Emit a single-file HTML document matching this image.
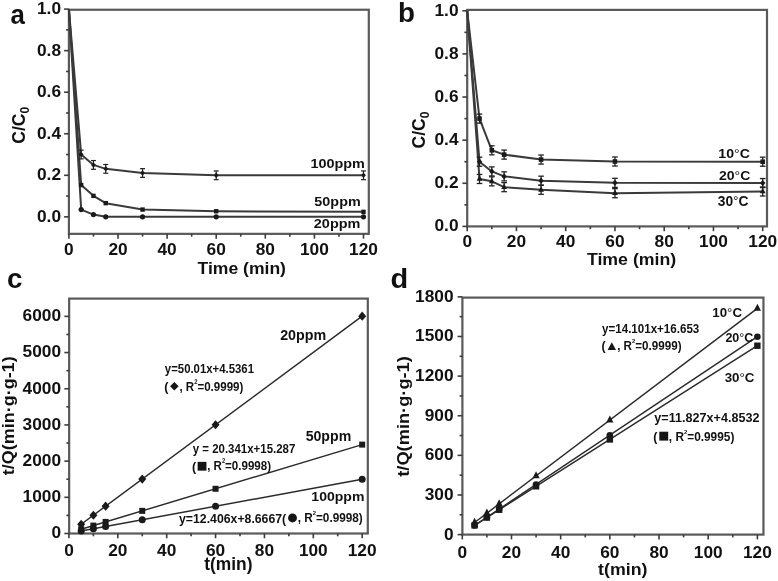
<!DOCTYPE html>
<html><head><meta charset="utf-8"><style>
html,body{margin:0;padding:0;background:#fff;width:778px;height:581px;overflow:hidden}
svg{display:block;font-family:"Liberation Sans",sans-serif}
#w{filter:grayscale(1);width:778px;height:581px}

</style></head><body>
<div id="w"><svg width="778" height="581" viewBox="0 0 778 581">
<rect width="778" height="581" fill="#fff"/>
<rect x="68.90" y="9.75" width="299.90" height="224.10" fill="none" stroke="#5a5a5a" stroke-width="2.2"/>
<line x1="68.90" y1="233.85" x2="68.90" y2="238.65" stroke="#3c3c3c" stroke-width="1.6"/>
<text x="68.90" y="255.20" font-size="17.3" font-weight="bold" text-anchor="middle" fill="#111">0</text>
<line x1="118.00" y1="233.85" x2="118.00" y2="238.65" stroke="#3c3c3c" stroke-width="1.6"/>
<text x="118.00" y="255.20" font-size="17.3" font-weight="bold" text-anchor="middle" fill="#111">20</text>
<line x1="167.10" y1="233.85" x2="167.10" y2="238.65" stroke="#3c3c3c" stroke-width="1.6"/>
<text x="167.10" y="255.20" font-size="17.3" font-weight="bold" text-anchor="middle" fill="#111">40</text>
<line x1="216.20" y1="233.85" x2="216.20" y2="238.65" stroke="#3c3c3c" stroke-width="1.6"/>
<text x="216.20" y="255.20" font-size="17.3" font-weight="bold" text-anchor="middle" fill="#111">60</text>
<line x1="265.30" y1="233.85" x2="265.30" y2="238.65" stroke="#3c3c3c" stroke-width="1.6"/>
<text x="265.30" y="255.20" font-size="17.3" font-weight="bold" text-anchor="middle" fill="#111">80</text>
<line x1="314.40" y1="233.85" x2="314.40" y2="238.65" stroke="#3c3c3c" stroke-width="1.6"/>
<text x="314.40" y="255.20" font-size="17.3" font-weight="bold" text-anchor="middle" fill="#111">100</text>
<line x1="363.50" y1="233.85" x2="363.50" y2="238.65" stroke="#3c3c3c" stroke-width="1.6"/>
<text x="363.50" y="255.20" font-size="17.3" font-weight="bold" text-anchor="middle" fill="#111">120</text>
<line x1="93.45" y1="233.85" x2="93.45" y2="236.65" stroke="#3c3c3c" stroke-width="1.6"/>
<line x1="142.55" y1="233.85" x2="142.55" y2="236.65" stroke="#3c3c3c" stroke-width="1.6"/>
<line x1="191.65" y1="233.85" x2="191.65" y2="236.65" stroke="#3c3c3c" stroke-width="1.6"/>
<line x1="240.75" y1="233.85" x2="240.75" y2="236.65" stroke="#3c3c3c" stroke-width="1.6"/>
<line x1="289.85" y1="233.85" x2="289.85" y2="236.65" stroke="#3c3c3c" stroke-width="1.6"/>
<line x1="338.95" y1="233.85" x2="338.95" y2="236.65" stroke="#3c3c3c" stroke-width="1.6"/>
<line x1="64.10" y1="216.85" x2="68.90" y2="216.85" stroke="#3c3c3c" stroke-width="1.6"/>
<text x="61.00" y="221.75" font-size="17.3" font-weight="bold" text-anchor="end" fill="#111">0.0</text>
<line x1="64.10" y1="175.30" x2="68.90" y2="175.30" stroke="#3c3c3c" stroke-width="1.6"/>
<text x="61.00" y="180.20" font-size="17.3" font-weight="bold" text-anchor="end" fill="#111">0.2</text>
<line x1="64.10" y1="133.75" x2="68.90" y2="133.75" stroke="#3c3c3c" stroke-width="1.6"/>
<text x="61.00" y="138.65" font-size="17.3" font-weight="bold" text-anchor="end" fill="#111">0.4</text>
<line x1="64.10" y1="92.20" x2="68.90" y2="92.20" stroke="#3c3c3c" stroke-width="1.6"/>
<text x="61.00" y="97.10" font-size="17.3" font-weight="bold" text-anchor="end" fill="#111">0.6</text>
<line x1="64.10" y1="50.65" x2="68.90" y2="50.65" stroke="#3c3c3c" stroke-width="1.6"/>
<text x="61.00" y="55.55" font-size="17.3" font-weight="bold" text-anchor="end" fill="#111">0.8</text>
<line x1="64.10" y1="9.10" x2="68.90" y2="9.10" stroke="#3c3c3c" stroke-width="1.6"/>
<text x="61.00" y="14.00" font-size="17.3" font-weight="bold" text-anchor="end" fill="#111">1.0</text>
<line x1="66.10" y1="196.07" x2="68.90" y2="196.07" stroke="#3c3c3c" stroke-width="1.6"/>
<line x1="66.10" y1="154.53" x2="68.90" y2="154.53" stroke="#3c3c3c" stroke-width="1.6"/>
<line x1="66.10" y1="112.97" x2="68.90" y2="112.97" stroke="#3c3c3c" stroke-width="1.6"/>
<line x1="66.10" y1="71.43" x2="68.90" y2="71.43" stroke="#3c3c3c" stroke-width="1.6"/>
<line x1="66.10" y1="29.88" x2="68.90" y2="29.88" stroke="#3c3c3c" stroke-width="1.6"/>
<polyline points="68.90,9.10 81.18,154.53 93.45,164.91 105.73,168.86 142.55,173.01 216.20,175.30 363.50,175.30" fill="none" stroke="#3a3a3a" stroke-width="2.0" stroke-linejoin="round"/>
<polyline points="68.90,9.10 81.18,185.06 93.45,195.87 105.73,203.14 142.55,209.58 216.20,211.24 363.50,211.86" fill="none" stroke="#3a3a3a" stroke-width="2.0" stroke-linejoin="round"/>
<polyline points="68.90,9.10 81.18,209.58 93.45,214.56 105.73,216.85 142.55,216.85 216.20,216.85 363.50,216.85" fill="none" stroke="#3a3a3a" stroke-width="2.0" stroke-linejoin="round"/>
<line x1="81.18" y1="150.16" x2="81.18" y2="158.89" stroke="#222" stroke-width="1.2"/>
<line x1="78.68" y1="150.16" x2="83.68" y2="150.16" stroke="#222" stroke-width="1.2"/>
<line x1="78.68" y1="158.89" x2="83.68" y2="158.89" stroke="#222" stroke-width="1.2"/>
<path d="M81.18,151.77 L83.58,154.53 L81.18,157.28 L78.78,154.53Z" fill="#1a1a1a"/>
<line x1="93.45" y1="160.55" x2="93.45" y2="169.28" stroke="#222" stroke-width="1.2"/>
<line x1="90.95" y1="160.55" x2="95.95" y2="160.55" stroke="#222" stroke-width="1.2"/>
<line x1="90.95" y1="169.28" x2="95.95" y2="169.28" stroke="#222" stroke-width="1.2"/>
<path d="M93.45,162.15 L95.85,164.91 L93.45,167.67 L91.05,164.91Z" fill="#1a1a1a"/>
<line x1="105.73" y1="164.50" x2="105.73" y2="173.22" stroke="#222" stroke-width="1.2"/>
<line x1="103.23" y1="164.50" x2="108.23" y2="164.50" stroke="#222" stroke-width="1.2"/>
<line x1="103.23" y1="173.22" x2="108.23" y2="173.22" stroke="#222" stroke-width="1.2"/>
<path d="M105.73,166.10 L108.13,168.86 L105.73,171.62 L103.33,168.86Z" fill="#1a1a1a"/>
<line x1="142.55" y1="168.65" x2="142.55" y2="177.38" stroke="#222" stroke-width="1.2"/>
<line x1="140.05" y1="168.65" x2="145.05" y2="168.65" stroke="#222" stroke-width="1.2"/>
<line x1="140.05" y1="177.38" x2="145.05" y2="177.38" stroke="#222" stroke-width="1.2"/>
<path d="M142.55,170.25 L144.95,173.01 L142.55,175.77 L140.15,173.01Z" fill="#1a1a1a"/>
<line x1="216.20" y1="170.94" x2="216.20" y2="179.66" stroke="#222" stroke-width="1.2"/>
<line x1="213.70" y1="170.94" x2="218.70" y2="170.94" stroke="#222" stroke-width="1.2"/>
<line x1="213.70" y1="179.66" x2="218.70" y2="179.66" stroke="#222" stroke-width="1.2"/>
<path d="M216.20,172.54 L218.60,175.30 L216.20,178.06 L213.80,175.30Z" fill="#1a1a1a"/>
<line x1="363.50" y1="170.94" x2="363.50" y2="179.66" stroke="#222" stroke-width="1.2"/>
<line x1="361.00" y1="170.94" x2="366.00" y2="170.94" stroke="#222" stroke-width="1.2"/>
<line x1="361.00" y1="179.66" x2="366.00" y2="179.66" stroke="#222" stroke-width="1.2"/>
<path d="M363.50,172.54 L365.90,175.30 L363.50,178.06 L361.10,175.30Z" fill="#1a1a1a"/>
<rect x="78.98" y="182.86" width="4.4" height="4.4" fill="#1a1a1a"/>
<rect x="91.25" y="193.67" width="4.4" height="4.4" fill="#1a1a1a"/>
<rect x="103.53" y="200.94" width="4.4" height="4.4" fill="#1a1a1a"/>
<rect x="140.35" y="207.38" width="4.4" height="4.4" fill="#1a1a1a"/>
<rect x="214.00" y="209.04" width="4.4" height="4.4" fill="#1a1a1a"/>
<rect x="361.30" y="209.66" width="4.4" height="4.4" fill="#1a1a1a"/>
<circle cx="81.18" cy="209.58" r="2.6" fill="#1a1a1a"/>
<circle cx="93.45" cy="214.56" r="2.6" fill="#1a1a1a"/>
<circle cx="105.73" cy="216.85" r="2.6" fill="#1a1a1a"/>
<circle cx="142.55" cy="216.85" r="2.6" fill="#1a1a1a"/>
<circle cx="216.20" cy="216.85" r="2.6" fill="#1a1a1a"/>
<circle cx="363.50" cy="216.85" r="2.6" fill="#1a1a1a"/>
<rect x="467.20" y="9.90" width="299.80" height="216.50" fill="none" stroke="#5a5a5a" stroke-width="2.2"/>
<line x1="467.20" y1="226.40" x2="467.20" y2="231.20" stroke="#3c3c3c" stroke-width="1.6"/>
<text x="467.20" y="247.00" font-size="17.3" font-weight="bold" text-anchor="middle" fill="#111">0</text>
<line x1="516.45" y1="226.40" x2="516.45" y2="231.20" stroke="#3c3c3c" stroke-width="1.6"/>
<text x="516.45" y="247.00" font-size="17.3" font-weight="bold" text-anchor="middle" fill="#111">20</text>
<line x1="565.70" y1="226.40" x2="565.70" y2="231.20" stroke="#3c3c3c" stroke-width="1.6"/>
<text x="565.70" y="247.00" font-size="17.3" font-weight="bold" text-anchor="middle" fill="#111">40</text>
<line x1="614.95" y1="226.40" x2="614.95" y2="231.20" stroke="#3c3c3c" stroke-width="1.6"/>
<text x="614.95" y="247.00" font-size="17.3" font-weight="bold" text-anchor="middle" fill="#111">60</text>
<line x1="664.20" y1="226.40" x2="664.20" y2="231.20" stroke="#3c3c3c" stroke-width="1.6"/>
<text x="664.20" y="247.00" font-size="17.3" font-weight="bold" text-anchor="middle" fill="#111">80</text>
<line x1="713.45" y1="226.40" x2="713.45" y2="231.20" stroke="#3c3c3c" stroke-width="1.6"/>
<text x="713.45" y="247.00" font-size="17.3" font-weight="bold" text-anchor="middle" fill="#111">100</text>
<line x1="762.70" y1="226.40" x2="762.70" y2="231.20" stroke="#3c3c3c" stroke-width="1.6"/>
<text x="762.70" y="247.00" font-size="17.3" font-weight="bold" text-anchor="middle" fill="#111">120</text>
<line x1="491.82" y1="226.40" x2="491.82" y2="229.20" stroke="#3c3c3c" stroke-width="1.6"/>
<line x1="541.08" y1="226.40" x2="541.08" y2="229.20" stroke="#3c3c3c" stroke-width="1.6"/>
<line x1="590.33" y1="226.40" x2="590.33" y2="229.20" stroke="#3c3c3c" stroke-width="1.6"/>
<line x1="639.58" y1="226.40" x2="639.58" y2="229.20" stroke="#3c3c3c" stroke-width="1.6"/>
<line x1="688.83" y1="226.40" x2="688.83" y2="229.20" stroke="#3c3c3c" stroke-width="1.6"/>
<line x1="738.08" y1="226.40" x2="738.08" y2="229.20" stroke="#3c3c3c" stroke-width="1.6"/>
<line x1="462.40" y1="226.40" x2="467.20" y2="226.40" stroke="#3c3c3c" stroke-width="1.6"/>
<text x="458.50" y="231.30" font-size="17.3" font-weight="bold" text-anchor="end" fill="#111">0.0</text>
<line x1="462.40" y1="183.28" x2="467.20" y2="183.28" stroke="#3c3c3c" stroke-width="1.6"/>
<text x="458.50" y="188.18" font-size="17.3" font-weight="bold" text-anchor="end" fill="#111">0.2</text>
<line x1="462.40" y1="140.16" x2="467.20" y2="140.16" stroke="#3c3c3c" stroke-width="1.6"/>
<text x="458.50" y="145.06" font-size="17.3" font-weight="bold" text-anchor="end" fill="#111">0.4</text>
<line x1="462.40" y1="97.04" x2="467.20" y2="97.04" stroke="#3c3c3c" stroke-width="1.6"/>
<text x="458.50" y="101.94" font-size="17.3" font-weight="bold" text-anchor="end" fill="#111">0.6</text>
<line x1="462.40" y1="53.92" x2="467.20" y2="53.92" stroke="#3c3c3c" stroke-width="1.6"/>
<text x="458.50" y="58.82" font-size="17.3" font-weight="bold" text-anchor="end" fill="#111">0.8</text>
<line x1="462.40" y1="10.80" x2="467.20" y2="10.80" stroke="#3c3c3c" stroke-width="1.6"/>
<text x="458.50" y="15.70" font-size="17.3" font-weight="bold" text-anchor="end" fill="#111">1.0</text>
<line x1="464.40" y1="204.84" x2="467.20" y2="204.84" stroke="#3c3c3c" stroke-width="1.6"/>
<line x1="464.40" y1="161.72" x2="467.20" y2="161.72" stroke="#3c3c3c" stroke-width="1.6"/>
<line x1="464.40" y1="118.60" x2="467.20" y2="118.60" stroke="#3c3c3c" stroke-width="1.6"/>
<line x1="464.40" y1="75.48" x2="467.20" y2="75.48" stroke="#3c3c3c" stroke-width="1.6"/>
<line x1="464.40" y1="32.36" x2="467.20" y2="32.36" stroke="#3c3c3c" stroke-width="1.6"/>
<polyline points="467.20,10.80 479.51,118.60 491.82,150.29 504.14,154.61 541.08,159.56 614.95,161.50 762.70,161.72" fill="none" stroke="#3a3a3a" stroke-width="2.0" stroke-linejoin="round"/>
<polyline points="467.20,10.80 479.51,161.72 491.82,171.42 504.14,176.38 541.08,180.69 614.95,182.85 762.70,183.06" fill="none" stroke="#3a3a3a" stroke-width="2.0" stroke-linejoin="round"/>
<polyline points="467.20,10.80 479.51,178.97 491.82,181.34 504.14,187.16 541.08,189.75 614.95,193.20 762.70,191.47" fill="none" stroke="#3a3a3a" stroke-width="2.0" stroke-linejoin="round"/>
<line x1="479.51" y1="114.07" x2="479.51" y2="123.13" stroke="#222" stroke-width="1.3"/>
<line x1="476.71" y1="114.07" x2="482.31" y2="114.07" stroke="#222" stroke-width="1.3"/>
<line x1="476.71" y1="123.13" x2="482.31" y2="123.13" stroke="#222" stroke-width="1.3"/>
<rect x="477.21" y="116.30" width="4.6" height="4.6" fill="#1a1a1a"/>
<line x1="491.82" y1="145.77" x2="491.82" y2="154.82" stroke="#222" stroke-width="1.3"/>
<line x1="489.02" y1="145.77" x2="494.62" y2="145.77" stroke="#222" stroke-width="1.3"/>
<line x1="489.02" y1="154.82" x2="494.62" y2="154.82" stroke="#222" stroke-width="1.3"/>
<rect x="489.52" y="147.99" width="4.6" height="4.6" fill="#1a1a1a"/>
<line x1="504.14" y1="150.08" x2="504.14" y2="159.13" stroke="#222" stroke-width="1.3"/>
<line x1="501.34" y1="150.08" x2="506.94" y2="150.08" stroke="#222" stroke-width="1.3"/>
<line x1="501.34" y1="159.13" x2="506.94" y2="159.13" stroke="#222" stroke-width="1.3"/>
<rect x="501.84" y="152.31" width="4.6" height="4.6" fill="#1a1a1a"/>
<line x1="541.08" y1="155.04" x2="541.08" y2="164.09" stroke="#222" stroke-width="1.3"/>
<line x1="538.28" y1="155.04" x2="543.88" y2="155.04" stroke="#222" stroke-width="1.3"/>
<line x1="538.28" y1="164.09" x2="543.88" y2="164.09" stroke="#222" stroke-width="1.3"/>
<rect x="538.78" y="157.26" width="4.6" height="4.6" fill="#1a1a1a"/>
<line x1="614.95" y1="156.98" x2="614.95" y2="166.03" stroke="#222" stroke-width="1.3"/>
<line x1="612.15" y1="156.98" x2="617.75" y2="156.98" stroke="#222" stroke-width="1.3"/>
<line x1="612.15" y1="166.03" x2="617.75" y2="166.03" stroke="#222" stroke-width="1.3"/>
<rect x="612.65" y="159.20" width="4.6" height="4.6" fill="#1a1a1a"/>
<line x1="762.70" y1="157.19" x2="762.70" y2="166.25" stroke="#222" stroke-width="1.3"/>
<line x1="759.90" y1="157.19" x2="765.50" y2="157.19" stroke="#222" stroke-width="1.3"/>
<line x1="759.90" y1="166.25" x2="765.50" y2="166.25" stroke="#222" stroke-width="1.3"/>
<rect x="760.40" y="159.42" width="4.6" height="4.6" fill="#1a1a1a"/>
<line x1="479.51" y1="157.19" x2="479.51" y2="166.25" stroke="#222" stroke-width="1.3"/>
<line x1="476.71" y1="157.19" x2="482.31" y2="157.19" stroke="#222" stroke-width="1.3"/>
<line x1="476.71" y1="166.25" x2="482.31" y2="166.25" stroke="#222" stroke-width="1.3"/>
<path d="M479.51,158.62 L482.21,161.72 L479.51,164.83 L476.81,161.72Z" fill="#1a1a1a"/>
<line x1="491.82" y1="166.89" x2="491.82" y2="175.95" stroke="#222" stroke-width="1.3"/>
<line x1="489.02" y1="166.89" x2="494.62" y2="166.89" stroke="#222" stroke-width="1.3"/>
<line x1="489.02" y1="175.95" x2="494.62" y2="175.95" stroke="#222" stroke-width="1.3"/>
<path d="M491.82,168.32 L494.52,171.42 L491.82,174.53 L489.12,171.42Z" fill="#1a1a1a"/>
<line x1="504.14" y1="171.85" x2="504.14" y2="180.91" stroke="#222" stroke-width="1.3"/>
<line x1="501.34" y1="171.85" x2="506.94" y2="171.85" stroke="#222" stroke-width="1.3"/>
<line x1="501.34" y1="180.91" x2="506.94" y2="180.91" stroke="#222" stroke-width="1.3"/>
<path d="M504.14,173.28 L506.84,176.38 L504.14,179.49 L501.44,176.38Z" fill="#1a1a1a"/>
<line x1="541.08" y1="176.17" x2="541.08" y2="185.22" stroke="#222" stroke-width="1.3"/>
<line x1="538.28" y1="176.17" x2="543.88" y2="176.17" stroke="#222" stroke-width="1.3"/>
<line x1="538.28" y1="185.22" x2="543.88" y2="185.22" stroke="#222" stroke-width="1.3"/>
<path d="M541.08,177.59 L543.78,180.69 L541.08,183.80 L538.38,180.69Z" fill="#1a1a1a"/>
<line x1="614.95" y1="178.32" x2="614.95" y2="187.38" stroke="#222" stroke-width="1.3"/>
<line x1="612.15" y1="178.32" x2="617.75" y2="178.32" stroke="#222" stroke-width="1.3"/>
<line x1="612.15" y1="187.38" x2="617.75" y2="187.38" stroke="#222" stroke-width="1.3"/>
<path d="M614.95,179.74 L617.65,182.85 L614.95,185.95 L612.25,182.85Z" fill="#1a1a1a"/>
<line x1="762.70" y1="178.54" x2="762.70" y2="187.59" stroke="#222" stroke-width="1.3"/>
<line x1="759.90" y1="178.54" x2="765.50" y2="178.54" stroke="#222" stroke-width="1.3"/>
<line x1="759.90" y1="187.59" x2="765.50" y2="187.59" stroke="#222" stroke-width="1.3"/>
<path d="M762.70,179.96 L765.40,183.06 L762.70,186.17 L760.00,183.06Z" fill="#1a1a1a"/>
<line x1="479.51" y1="174.44" x2="479.51" y2="183.50" stroke="#222" stroke-width="1.3"/>
<line x1="476.71" y1="174.44" x2="482.31" y2="174.44" stroke="#222" stroke-width="1.3"/>
<line x1="476.71" y1="183.50" x2="482.31" y2="183.50" stroke="#222" stroke-width="1.3"/>
<path d="M479.51,175.20 L482.41,180.85 L476.61,180.85Z" fill="#1a1a1a"/>
<line x1="491.82" y1="176.81" x2="491.82" y2="185.87" stroke="#222" stroke-width="1.3"/>
<line x1="489.02" y1="176.81" x2="494.62" y2="176.81" stroke="#222" stroke-width="1.3"/>
<line x1="489.02" y1="185.87" x2="494.62" y2="185.87" stroke="#222" stroke-width="1.3"/>
<path d="M491.82,177.57 L494.72,183.22 L488.93,183.22Z" fill="#1a1a1a"/>
<line x1="504.14" y1="182.63" x2="504.14" y2="191.69" stroke="#222" stroke-width="1.3"/>
<line x1="501.34" y1="182.63" x2="506.94" y2="182.63" stroke="#222" stroke-width="1.3"/>
<line x1="501.34" y1="191.69" x2="506.94" y2="191.69" stroke="#222" stroke-width="1.3"/>
<path d="M504.14,183.39 L507.04,189.05 L501.24,189.05Z" fill="#1a1a1a"/>
<line x1="541.08" y1="185.22" x2="541.08" y2="194.28" stroke="#222" stroke-width="1.3"/>
<line x1="538.28" y1="185.22" x2="543.88" y2="185.22" stroke="#222" stroke-width="1.3"/>
<line x1="538.28" y1="194.28" x2="543.88" y2="194.28" stroke="#222" stroke-width="1.3"/>
<path d="M541.08,185.98 L543.98,191.63 L538.18,191.63Z" fill="#1a1a1a"/>
<line x1="614.95" y1="188.67" x2="614.95" y2="197.73" stroke="#222" stroke-width="1.3"/>
<line x1="612.15" y1="188.67" x2="617.75" y2="188.67" stroke="#222" stroke-width="1.3"/>
<line x1="612.15" y1="197.73" x2="617.75" y2="197.73" stroke="#222" stroke-width="1.3"/>
<path d="M614.95,189.43 L617.85,195.08 L612.05,195.08Z" fill="#1a1a1a"/>
<line x1="762.70" y1="186.95" x2="762.70" y2="196.00" stroke="#222" stroke-width="1.3"/>
<line x1="759.90" y1="186.95" x2="765.50" y2="186.95" stroke="#222" stroke-width="1.3"/>
<line x1="759.90" y1="196.00" x2="765.50" y2="196.00" stroke="#222" stroke-width="1.3"/>
<path d="M762.70,187.70 L765.60,193.36 L759.80,193.36Z" fill="#1a1a1a"/>
<rect x="69.15" y="298.60" width="298.65" height="234.90" fill="none" stroke="#5a5a5a" stroke-width="2.2"/>
<line x1="68.95" y1="533.50" x2="68.95" y2="538.30" stroke="#3c3c3c" stroke-width="1.6"/>
<text x="68.95" y="555.70" font-size="17.3" font-weight="bold" text-anchor="middle" fill="#111">0</text>
<line x1="117.82" y1="533.50" x2="117.82" y2="538.30" stroke="#3c3c3c" stroke-width="1.6"/>
<text x="117.82" y="555.70" font-size="17.3" font-weight="bold" text-anchor="middle" fill="#111">20</text>
<line x1="166.69" y1="533.50" x2="166.69" y2="538.30" stroke="#3c3c3c" stroke-width="1.6"/>
<text x="166.69" y="555.70" font-size="17.3" font-weight="bold" text-anchor="middle" fill="#111">40</text>
<line x1="215.56" y1="533.50" x2="215.56" y2="538.30" stroke="#3c3c3c" stroke-width="1.6"/>
<text x="215.56" y="555.70" font-size="17.3" font-weight="bold" text-anchor="middle" fill="#111">60</text>
<line x1="264.43" y1="533.50" x2="264.43" y2="538.30" stroke="#3c3c3c" stroke-width="1.6"/>
<text x="264.43" y="555.70" font-size="17.3" font-weight="bold" text-anchor="middle" fill="#111">80</text>
<line x1="313.30" y1="533.50" x2="313.30" y2="538.30" stroke="#3c3c3c" stroke-width="1.6"/>
<text x="313.30" y="555.70" font-size="17.3" font-weight="bold" text-anchor="middle" fill="#111">100</text>
<line x1="362.17" y1="533.50" x2="362.17" y2="538.30" stroke="#3c3c3c" stroke-width="1.6"/>
<text x="362.17" y="555.70" font-size="17.3" font-weight="bold" text-anchor="middle" fill="#111">120</text>
<line x1="93.39" y1="533.50" x2="93.39" y2="536.30" stroke="#3c3c3c" stroke-width="1.6"/>
<line x1="142.25" y1="533.50" x2="142.25" y2="536.30" stroke="#3c3c3c" stroke-width="1.6"/>
<line x1="191.12" y1="533.50" x2="191.12" y2="536.30" stroke="#3c3c3c" stroke-width="1.6"/>
<line x1="240.00" y1="533.50" x2="240.00" y2="536.30" stroke="#3c3c3c" stroke-width="1.6"/>
<line x1="288.87" y1="533.50" x2="288.87" y2="536.30" stroke="#3c3c3c" stroke-width="1.6"/>
<line x1="337.73" y1="533.50" x2="337.73" y2="536.30" stroke="#3c3c3c" stroke-width="1.6"/>
<line x1="64.35" y1="533.50" x2="69.15" y2="533.50" stroke="#3c3c3c" stroke-width="1.6"/>
<text x="61.00" y="538.40" font-size="17.3" font-weight="bold" text-anchor="end" fill="#111">0</text>
<line x1="64.35" y1="497.31" x2="69.15" y2="497.31" stroke="#3c3c3c" stroke-width="1.6"/>
<text x="61.00" y="502.21" font-size="17.3" font-weight="bold" text-anchor="end" fill="#111">1000</text>
<line x1="64.35" y1="461.12" x2="69.15" y2="461.12" stroke="#3c3c3c" stroke-width="1.6"/>
<text x="61.00" y="466.02" font-size="17.3" font-weight="bold" text-anchor="end" fill="#111">2000</text>
<line x1="64.35" y1="424.94" x2="69.15" y2="424.94" stroke="#3c3c3c" stroke-width="1.6"/>
<text x="61.00" y="429.84" font-size="17.3" font-weight="bold" text-anchor="end" fill="#111">3000</text>
<line x1="64.35" y1="388.75" x2="69.15" y2="388.75" stroke="#3c3c3c" stroke-width="1.6"/>
<text x="61.00" y="393.65" font-size="17.3" font-weight="bold" text-anchor="end" fill="#111">4000</text>
<line x1="64.35" y1="352.56" x2="69.15" y2="352.56" stroke="#3c3c3c" stroke-width="1.6"/>
<text x="61.00" y="357.46" font-size="17.3" font-weight="bold" text-anchor="end" fill="#111">5000</text>
<line x1="64.35" y1="316.37" x2="69.15" y2="316.37" stroke="#3c3c3c" stroke-width="1.6"/>
<text x="61.00" y="321.27" font-size="17.3" font-weight="bold" text-anchor="end" fill="#111">6000</text>
<line x1="66.35" y1="515.41" x2="69.15" y2="515.41" stroke="#3c3c3c" stroke-width="1.6"/>
<line x1="66.35" y1="479.22" x2="69.15" y2="479.22" stroke="#3c3c3c" stroke-width="1.6"/>
<line x1="66.35" y1="443.03" x2="69.15" y2="443.03" stroke="#3c3c3c" stroke-width="1.6"/>
<line x1="66.35" y1="406.84" x2="69.15" y2="406.84" stroke="#3c3c3c" stroke-width="1.6"/>
<line x1="66.35" y1="370.65" x2="69.15" y2="370.65" stroke="#3c3c3c" stroke-width="1.6"/>
<line x1="66.35" y1="334.47" x2="69.15" y2="334.47" stroke="#3c3c3c" stroke-width="1.6"/>
<polyline points="81.17,524.29 362.17,316.16" fill="none" stroke="#2a2a2a" stroke-width="1.45" stroke-linejoin="round"/>
<path d="M81.17,519.69 L85.17,524.29 L81.17,528.89 L77.17,524.29Z" fill="#1a1a1a"/>
<path d="M93.39,510.64 L97.39,515.24 L93.39,519.84 L89.39,515.24Z" fill="#1a1a1a"/>
<path d="M105.60,501.59 L109.60,506.19 L105.60,510.79 L101.60,506.19Z" fill="#1a1a1a"/>
<path d="M142.25,474.44 L146.25,479.04 L142.25,483.64 L138.25,479.04Z" fill="#1a1a1a"/>
<path d="M215.56,420.15 L219.56,424.75 L215.56,429.35 L211.56,424.75Z" fill="#1a1a1a"/>
<path d="M362.17,311.56 L366.17,316.16 L362.17,320.76 L358.17,316.16Z" fill="#1a1a1a"/>
<polyline points="81.17,529.27 362.17,444.61" fill="none" stroke="#2a2a2a" stroke-width="1.45" stroke-linejoin="round"/>
<rect x="78.17" y="526.27" width="6.0" height="6.0" fill="#1a1a1a"/>
<rect x="90.39" y="522.59" width="6.0" height="6.0" fill="#1a1a1a"/>
<rect x="102.60" y="518.91" width="6.0" height="6.0" fill="#1a1a1a"/>
<rect x="139.25" y="507.86" width="6.0" height="6.0" fill="#1a1a1a"/>
<rect x="212.56" y="485.78" width="6.0" height="6.0" fill="#1a1a1a"/>
<rect x="359.17" y="441.61" width="6.0" height="6.0" fill="#1a1a1a"/>
<polyline points="81.17,530.94 362.17,479.31" fill="none" stroke="#2a2a2a" stroke-width="1.45" stroke-linejoin="round"/>
<circle cx="81.17" cy="530.94" r="3.5" fill="#1a1a1a"/>
<circle cx="93.39" cy="528.70" r="3.5" fill="#1a1a1a"/>
<circle cx="105.60" cy="526.45" r="3.5" fill="#1a1a1a"/>
<circle cx="142.25" cy="519.72" r="3.5" fill="#1a1a1a"/>
<circle cx="215.56" cy="506.25" r="3.5" fill="#1a1a1a"/>
<circle cx="362.17" cy="479.31" r="3.5" fill="#1a1a1a"/>
<path d="M174.35,382.0 L178.65,386.3 L174.35,390.6 L170.05,386.3Z" fill="#151515"/>
<rect x="197.65" y="461.85" width="8.8" height="8.8" fill="#151515"/>
<circle cx="292.5" cy="517.95" r="4.45" fill="#151515"/>
<path d="M611.8,342.2 L616.0,350.1 L607.6,350.1Z" fill="#151515"/>
<rect x="659.3" y="431.7" width="8.9" height="8.9" fill="#151515"/>
<rect x="462.40" y="297.60" width="301.05" height="237.00" fill="none" stroke="#5a5a5a" stroke-width="2.2"/>
<line x1="462.30" y1="534.60" x2="462.30" y2="539.40" stroke="#3c3c3c" stroke-width="1.6"/>
<text x="462.30" y="557.50" font-size="17.3" font-weight="bold" text-anchor="middle" fill="#111">0</text>
<line x1="511.48" y1="534.60" x2="511.48" y2="539.40" stroke="#3c3c3c" stroke-width="1.6"/>
<text x="511.48" y="557.50" font-size="17.3" font-weight="bold" text-anchor="middle" fill="#111">20</text>
<line x1="560.66" y1="534.60" x2="560.66" y2="539.40" stroke="#3c3c3c" stroke-width="1.6"/>
<text x="560.66" y="557.50" font-size="17.3" font-weight="bold" text-anchor="middle" fill="#111">40</text>
<line x1="609.84" y1="534.60" x2="609.84" y2="539.40" stroke="#3c3c3c" stroke-width="1.6"/>
<text x="609.84" y="557.50" font-size="17.3" font-weight="bold" text-anchor="middle" fill="#111">60</text>
<line x1="659.02" y1="534.60" x2="659.02" y2="539.40" stroke="#3c3c3c" stroke-width="1.6"/>
<text x="659.02" y="557.50" font-size="17.3" font-weight="bold" text-anchor="middle" fill="#111">80</text>
<line x1="708.20" y1="534.60" x2="708.20" y2="539.40" stroke="#3c3c3c" stroke-width="1.6"/>
<text x="708.20" y="557.50" font-size="17.3" font-weight="bold" text-anchor="middle" fill="#111">100</text>
<line x1="757.38" y1="534.60" x2="757.38" y2="539.40" stroke="#3c3c3c" stroke-width="1.6"/>
<text x="757.38" y="557.50" font-size="17.3" font-weight="bold" text-anchor="middle" fill="#111">120</text>
<line x1="486.89" y1="534.60" x2="486.89" y2="537.40" stroke="#3c3c3c" stroke-width="1.6"/>
<line x1="536.07" y1="534.60" x2="536.07" y2="537.40" stroke="#3c3c3c" stroke-width="1.6"/>
<line x1="585.25" y1="534.60" x2="585.25" y2="537.40" stroke="#3c3c3c" stroke-width="1.6"/>
<line x1="634.43" y1="534.60" x2="634.43" y2="537.40" stroke="#3c3c3c" stroke-width="1.6"/>
<line x1="683.61" y1="534.60" x2="683.61" y2="537.40" stroke="#3c3c3c" stroke-width="1.6"/>
<line x1="732.79" y1="534.60" x2="732.79" y2="537.40" stroke="#3c3c3c" stroke-width="1.6"/>
<line x1="457.60" y1="534.60" x2="462.40" y2="534.60" stroke="#3c3c3c" stroke-width="1.6"/>
<text x="453.50" y="539.50" font-size="17.3" font-weight="bold" text-anchor="end" fill="#111">0</text>
<line x1="457.60" y1="494.98" x2="462.40" y2="494.98" stroke="#3c3c3c" stroke-width="1.6"/>
<text x="453.50" y="499.88" font-size="17.3" font-weight="bold" text-anchor="end" fill="#111">300</text>
<line x1="457.60" y1="455.35" x2="462.40" y2="455.35" stroke="#3c3c3c" stroke-width="1.6"/>
<text x="453.50" y="460.25" font-size="17.3" font-weight="bold" text-anchor="end" fill="#111">600</text>
<line x1="457.60" y1="415.73" x2="462.40" y2="415.73" stroke="#3c3c3c" stroke-width="1.6"/>
<text x="453.50" y="420.63" font-size="17.3" font-weight="bold" text-anchor="end" fill="#111">900</text>
<line x1="457.60" y1="376.10" x2="462.40" y2="376.10" stroke="#3c3c3c" stroke-width="1.6"/>
<text x="453.50" y="381.00" font-size="17.3" font-weight="bold" text-anchor="end" fill="#111">1200</text>
<line x1="457.60" y1="336.48" x2="462.40" y2="336.48" stroke="#3c3c3c" stroke-width="1.6"/>
<text x="453.50" y="341.38" font-size="17.3" font-weight="bold" text-anchor="end" fill="#111">1500</text>
<line x1="457.60" y1="296.86" x2="462.40" y2="296.86" stroke="#3c3c3c" stroke-width="1.6"/>
<text x="453.50" y="301.76" font-size="17.3" font-weight="bold" text-anchor="end" fill="#111">1800</text>
<line x1="459.60" y1="514.79" x2="462.40" y2="514.79" stroke="#3c3c3c" stroke-width="1.6"/>
<line x1="459.60" y1="475.16" x2="462.40" y2="475.16" stroke="#3c3c3c" stroke-width="1.6"/>
<line x1="459.60" y1="435.54" x2="462.40" y2="435.54" stroke="#3c3c3c" stroke-width="1.6"/>
<line x1="459.60" y1="395.92" x2="462.40" y2="395.92" stroke="#3c3c3c" stroke-width="1.6"/>
<line x1="459.60" y1="356.29" x2="462.40" y2="356.29" stroke="#3c3c3c" stroke-width="1.6"/>
<line x1="459.60" y1="316.67" x2="462.40" y2="316.67" stroke="#3c3c3c" stroke-width="1.6"/>
<polyline points="474.60,522.51 757.38,308.33" fill="none" stroke="#2a2a2a" stroke-width="1.45" stroke-linejoin="round"/>
<path d="M474.60,517.83 L478.20,524.85 L471.00,524.85Z" fill="#1a1a1a"/>
<path d="M486.89,508.52 L490.49,515.54 L483.29,515.54Z" fill="#1a1a1a"/>
<path d="M499.19,499.21 L502.79,506.23 L495.58,506.23Z" fill="#1a1a1a"/>
<path d="M536.07,471.27 L539.67,478.29 L532.47,478.29Z" fill="#1a1a1a"/>
<path d="M609.84,415.40 L613.44,422.42 L606.24,422.42Z" fill="#1a1a1a"/>
<path d="M757.38,303.65 L760.98,310.67 L753.78,310.67Z" fill="#1a1a1a"/>
<polyline points="474.60,525.48 757.38,336.68" fill="none" stroke="#2a2a2a" stroke-width="1.45" stroke-linejoin="round"/>
<circle cx="474.60" cy="525.48" r="3.3" fill="#1a1a1a"/>
<circle cx="486.89" cy="517.27" r="3.3" fill="#1a1a1a"/>
<circle cx="499.19" cy="509.06" r="3.3" fill="#1a1a1a"/>
<circle cx="536.07" cy="484.44" r="3.3" fill="#1a1a1a"/>
<circle cx="609.84" cy="435.18" r="3.3" fill="#1a1a1a"/>
<circle cx="757.38" cy="336.68" r="3.3" fill="#1a1a1a"/>
<polyline points="474.60,525.36 757.38,345.72" fill="none" stroke="#2a2a2a" stroke-width="1.45" stroke-linejoin="round"/>
<rect x="471.40" y="522.16" width="6.4" height="6.4" fill="#1a1a1a"/>
<rect x="483.69" y="514.35" width="6.4" height="6.4" fill="#1a1a1a"/>
<rect x="495.99" y="506.54" width="6.4" height="6.4" fill="#1a1a1a"/>
<rect x="532.87" y="483.11" width="6.4" height="6.4" fill="#1a1a1a"/>
<rect x="606.64" y="436.25" width="6.4" height="6.4" fill="#1a1a1a"/>
<rect x="754.18" y="342.52" width="6.4" height="6.4" fill="#1a1a1a"/>
<text id="la" transform="translate(10.612,23.530) scale(0.9217,1)" font-size="28.019" font-weight="bold" fill="#111">a</text>
<text id="lb" transform="translate(398.070,21.887) scale(1.0167,1)" font-size="27.368" font-weight="bold" fill="#111">b</text>
<text id="lc" transform="translate(6.933,287.537) scale(1.0140,1)" font-size="27.368" font-weight="bold" fill="#111">c</text>
<text id="ld" transform="translate(390.433,287.886) scale(1.0662,1)" font-size="27.170" font-weight="bold" fill="#111">d</text>
<text id="ta" transform="translate(197.540,273.864) scale(1.0855,1)" font-size="16.190" font-weight="bold" fill="#111">Time (min)</text>
<text id="tb" transform="translate(586.888,264.835) scale(1.1217,1)" font-size="15.820" font-weight="bold" fill="#111">Time (min)</text>
<text id="tc" transform="translate(204.200,569.747) scale(0.9787,1)" font-size="17.769" font-weight="bold" fill="#111">t(min)</text>
<text id="td" transform="translate(598.094,575.372) scale(1.0228,1)" font-size="17.399" font-weight="bold" fill="#111">t(min)</text>
<text id="a100" transform="translate(310.448,168.029) scale(1.0592,1)" font-size="13.622" font-weight="bold" fill="#111">100ppm</text>
<text id="a50" transform="translate(314.365,205.858) scale(1.1052,1)" font-size="13.012" font-weight="bold" fill="#111">50ppm</text>
<text id="a20" transform="translate(313.811,227.863) scale(1.1114,1)" font-size="13.012" font-weight="bold" fill="#111">20ppm</text>
<text id="b10" transform="translate(718.263,158.246) scale(1.0532,1)" font-size="13.439" font-weight="bold" fill="#111">10<tspan font-weight="normal">°</tspan>C</text>
<text id="b20" transform="translate(718.979,180.000) scale(1.0852,1)" font-size="12.952" font-weight="bold" fill="#111">20<tspan font-weight="normal">°</tspan>C</text>
<text id="b30" transform="translate(717.744,205.756) scale(0.9953,1)" font-size="13.864" font-weight="bold" fill="#111">30<tspan font-weight="normal">°</tspan>C</text>
<text id="c20" transform="translate(280.137,339.791) scale(1.0022,1)" font-size="14.275" font-weight="bold" fill="#111">20ppm</text>
<text id="c50" transform="translate(305.641,440.549) scale(0.9945,1)" font-size="14.225" font-weight="bold" fill="#111">50ppm</text>
<text id="c100" transform="translate(311.345,500.919) scale(1.0617,1)" font-size="13.239" font-weight="bold" fill="#111">100ppm</text>
<text id="ce1" transform="translate(164.852,372.935) scale(0.9219,1)" font-size="12.341" font-weight="bold" fill="#111">y=50.01x+4.5361</text>
<text id="ce1b_p" transform="translate(164.300,390.850) scale(1.0000,1)" font-size="12.500" font-weight="bold" fill="#111">(</text>
<text id="ce1b" transform="translate(179.445,390.876) scale(0.9189,1)" font-size="12.595" font-weight="bold" fill="#111"><tspan></tspan>, R<tspan font-size="6.30" dy="-7.31">2</tspan><tspan dy="7.31">=0.9999)</tspan></text>
<text id="ce2" transform="translate(192.751,453.093) scale(0.9545,1)" font-size="12.013" font-weight="bold" fill="#111">y = 20.341x+15.287</text>
<text id="ce2b_p" transform="translate(192.050,470.500) scale(1.0000,1)" font-size="12.500" font-weight="bold" fill="#111">(</text>
<text id="ce2b" transform="translate(207.145,470.386) scale(0.8863,1)" font-size="13.038" font-weight="bold" fill="#111"><tspan></tspan>, R<tspan font-size="6.52" dy="-7.56">2</tspan><tspan dy="7.56">=0.9998)</tspan></text>
<text id="ce3" transform="translate(178.994,522.805) scale(0.9363,1)" font-size="13.122" font-weight="bold" fill="#111">y=12.406x+8.6667(</text>
<text id="ce3_s" transform="translate(297.664,522.039) scale(0.9762,1)" font-size="12.056" font-weight="bold" fill="#111"><tspan></tspan>, R<tspan font-size="6.03" dy="-6.99">2</tspan><tspan dy="6.99">=0.9998)</tspan></text>
<text id="d10" transform="translate(712.260,316.753) scale(1.0412,1)" font-size="12.789" font-weight="bold" fill="#111">10<tspan font-weight="normal">°</tspan>C</text>
<text id="d20" transform="translate(725.382,342.492) scale(0.9325,1)" font-size="13.439" font-weight="bold" fill="#111">20<tspan font-weight="normal">°</tspan>C</text>
<text id="d30" transform="translate(724.649,381.748) scale(1.0268,1)" font-size="12.952" font-weight="bold" fill="#111">30<tspan font-weight="normal">°</tspan>C</text>
<text id="de1" transform="translate(602.047,332.841) scale(0.9473,1)" font-size="12.241" font-weight="bold" fill="#111">y=14.101x+16.653</text>
<text id="de1b_p" transform="translate(601.575,350.000) scale(1.0000,1)" font-size="12.300" font-weight="bold" fill="#111">(</text>
<text id="de1b" transform="translate(617.139,349.950) scale(0.9501,1)" font-size="12.269" font-weight="bold" fill="#111"><tspan></tspan>, R<tspan font-size="6.13" dy="-7.12">2</tspan><tspan dy="7.12">=0.9999)</tspan></text>
<text id="de2" transform="translate(654.336,422.325) scale(0.9985,1)" font-size="12.622" font-weight="bold" fill="#111">y=11.827x+4.8532</text>
<text id="de2b_p" transform="translate(653.275,441.450) scale(1.0000,1)" font-size="12.300" font-weight="bold" fill="#111">(</text>
<text id="de2b" transform="translate(668.808,441.337) scale(0.9839,1)" font-size="12.056" font-weight="bold" fill="#111"><tspan></tspan>, R<tspan font-size="6.03" dy="-6.99">2</tspan><tspan dy="6.99">=0.9995)</tspan></text>
<text id="ya" transform="translate(24.895,143.755) rotate(-90) scale(0.9764,1)" font-size="18.050" font-weight="bold" fill="#111">C/C<tspan font-size="12.27" dy="3.61">0</tspan></text>
<text id="yb" transform="translate(424.981,148.507) rotate(-90) scale(0.9351,1)" font-size="18.846" font-weight="bold" fill="#111">C/C<tspan font-size="12.82" dy="3.77">0</tspan></text>
<text id="yc" transform="translate(13.690,475.259) rotate(-90) scale(1.0722,1)" font-size="16.789" font-weight="bold" fill="#111">t/Q(min·g·g-1)</text>
<text id="yd" transform="translate(409.486,476.762) rotate(-90) scale(1.0831,1)" font-size="16.859" font-weight="bold" fill="#111">t/Q(min·g·g-1)</text>
</svg></div></body></html>
